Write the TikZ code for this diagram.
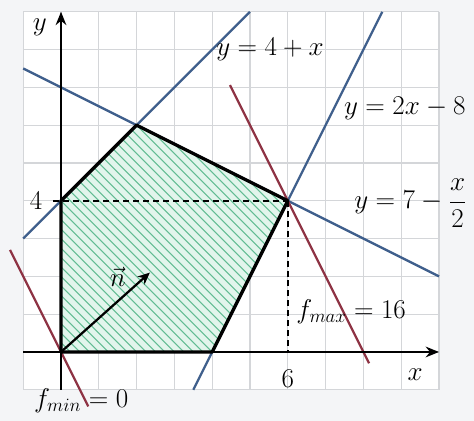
\documentclass[tikz,border=0pt]{standalone}
\usetikzlibrary{arrows.meta}
\definecolor{bggray}{HTML}{F4F5F7}
\definecolor{gridgray}{HTML}{D4D6D9}
\definecolor{lineblue}{HTML}{3F5F8C}
\definecolor{linered}{HTML}{8E3344}
\definecolor{hatchgreen}{HTML}{62BC93}
\definecolor{fillgreen}{HTML}{E2F5EC}
\begin{document}
\begin{tikzpicture}[x=1cm,y=1cm,
  gridline/.style={draw=gridgray, line width=0.8pt},
  axisline/.style={draw=black, line width=2pt, -{Stealth[length=10pt,width=8pt]}},
  blueline/.style={draw=lineblue, line width=1.7pt},
  redline/.style={draw=linered, line width=1.7pt},
  boundary/.style={draw=black, line width=2.5pt, line join=round},
  hatchline/.style={draw=hatchgreen, line width=0.8pt},
  dashline/.style={draw=black, line width=1.1pt, dash pattern=on 4.5pt off 3pt},
  lbl/.style={inner sep=0pt, font=\fontsize{17.28}{20}\selectfont, scale=1.18}]
\useasboundingbox (-1.614,-1.825) rectangle (10.926,9.312);
\fill[bggray] (-1.614,-1.825) rectangle (10.926,9.312);
\fill[white] (-1,-1) rectangle (10,9);
\foreach \i in {-1,...,10} \draw[gridline] (\i,-1) -- (\i,9);
\foreach \j in {-1,...,9} \draw[gridline] (-1,\j) -- (10,\j);

\coordinate (O) at (0,0);
\coordinate (A) at (0,4);
\coordinate (B) at (2,6);
\coordinate (C) at (6,4);
\coordinate (D) at (4,0);

% hatched region
\begin{scope}
\clip (O) -- (A) -- (B) -- (C) -- (D) -- cycle;
\fill[fillgreen] (O) -- (A) -- (B) -- (C) -- (D) -- cycle;
\foreach \c in {-0.5,-0.25,...,14} \draw[hatchline] (\c+2,-2) -- (\c-12,12);
\end{scope}

% blue constraint lines
\coordinate (b1s) at (-1,3);   \coordinate (b1e) at (5,9);
\coordinate (b2s) at (3.5,-1); \coordinate (b2e) at (8.5,9);
\coordinate (b3s) at (-1,7.5); \coordinate (b3e) at (10,2);
\draw[blueline] (b1s) -- (b1e);
\draw[blueline] (b2s) -- (b2e);
\draw[blueline] (b3s) -- (b3e);

% red level lines
\coordinate (r1s) at (-1.35,2.7); \coordinate (r1e) at (0.72,-1.44);
\coordinate (r2s) at (4.47,7.06); \coordinate (r2e) at (8.15,-0.3);
\draw[redline] (r1s) -- (r1e);
\draw[redline] (r2s) -- (r2e);

% dashed
\coordinate (d4) at (-0.2,4);
\coordinate (d6) at (6,0);
\draw[dashline] (d4) -- (C);
\draw[dashline] (C) -- (d6);

% axes
\coordinate (xs) at (-1,0); \coordinate (xe) at (10,0);
\coordinate (ys) at (0,-1); \coordinate (ye) at (0,9);
\draw[axisline] (xs) -- (xe);
\draw[axisline] (ys) -- (ye);

% boundary
\draw[boundary] (O) -- (A) -- (B) -- (C) -- (D) -- cycle;

% normal vector
\coordinate (nv) at (2.35,2.1);
\draw[draw=black, line width=1.7pt, -{Stealth[length=9pt,width=8pt]}] (O) -- (nv);

% labels
\node[lbl] (ly) at (-0.56,8.6) {$y$};
\node[lbl] (lx) at (9.37,-0.6) {$x$};
\node[lbl] (l4) at (-0.66,4.0) {$4$};
\node[lbl] (l6) at (6.0,-0.7) {$6$};
\node[lbl] (ln) at (1.5,2.0) {$\vec{n}$};
\node[lbl, anchor=west] (lb1) at (4.1,8.0) {$y=4+x$};
\node[lbl, anchor=west] (lb2) at (7.48,6.45) {$y=2x-8$};
\node[lbl, anchor=west] (lb3) at (7.75,3.94) {$\displaystyle y=7-\frac{x}{2}$};
\node[lbl, anchor=west] (lfm) at (6.22,1.06) {$f_{max}=16$};
\node[lbl, anchor=west] (lfn) at (-0.72,-1.3) {$f_{min}=0$};
\end{tikzpicture}
\end{document}
